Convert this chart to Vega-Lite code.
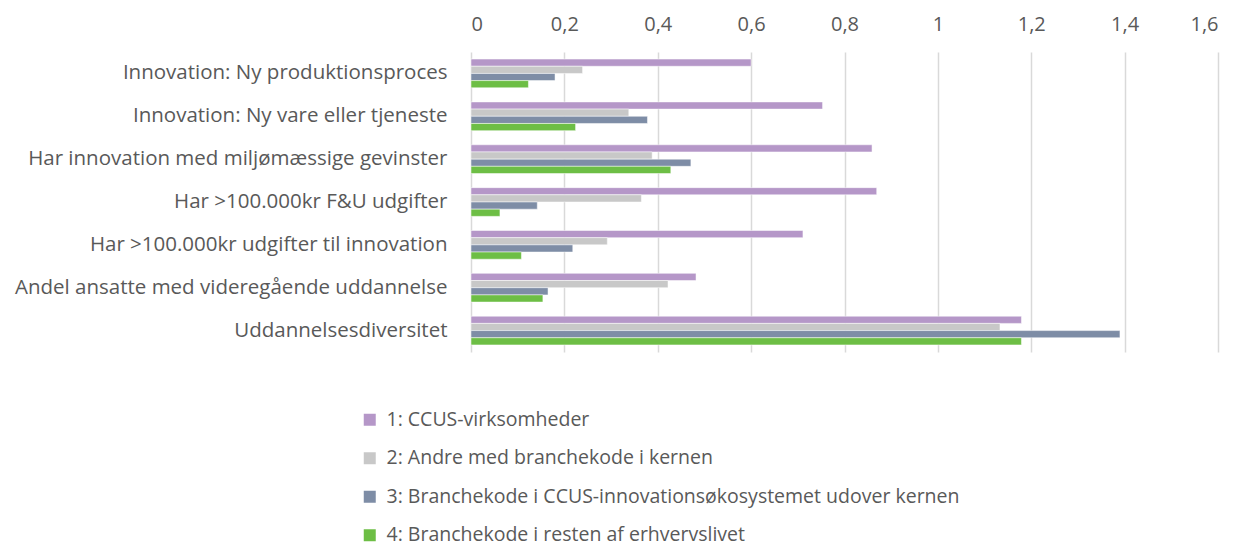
{
  "$schema": "https://vega.github.io/schema/vega-lite/v6.json",
  "autosize": {"type": "none"},
  "padding": {"left": 471, "top": 52, "right": 18, "bottom": 193},
  "width": 747,
  "height": 300,
  "background": "white",
  "config": {
    "font": "Open Sans",
    "view": {"stroke": null}
  },
  "data": {
    "values": [
      {"kategori": "Innovation: Ny produktionsproces", "gruppe": "1: CCUS-virksomheder", "v": 0.60},
      {"kategori": "Innovation: Ny produktionsproces", "gruppe": "2: Andre med branchekode i kernen", "v": 0.239},
      {"kategori": "Innovation: Ny produktionsproces", "gruppe": "3: Branchekode i CCUS-innovationsøkosystemet udover kernen", "v": 0.18},
      {"kategori": "Innovation: Ny produktionsproces", "gruppe": "4: Branchekode i resten af erhvervslivet", "v": 0.123},
      {"kategori": "Innovation: Ny vare eller tjeneste", "gruppe": "1: CCUS-virksomheder", "v": 0.753},
      {"kategori": "Innovation: Ny vare eller tjeneste", "gruppe": "2: Andre med branchekode i kernen", "v": 0.338},
      {"kategori": "Innovation: Ny vare eller tjeneste", "gruppe": "3: Branchekode i CCUS-innovationsøkosystemet udover kernen", "v": 0.378},
      {"kategori": "Innovation: Ny vare eller tjeneste", "gruppe": "4: Branchekode i resten af erhvervslivet", "v": 0.224},
      {"kategori": "Har innovation med miljømæssige gevinster", "gruppe": "1: CCUS-virksomheder", "v": 0.859},
      {"kategori": "Har innovation med miljømæssige gevinster", "gruppe": "2: Andre med branchekode i kernen", "v": 0.388},
      {"kategori": "Har innovation med miljømæssige gevinster", "gruppe": "3: Branchekode i CCUS-innovationsøkosystemet udover kernen", "v": 0.471},
      {"kategori": "Har innovation med miljømæssige gevinster", "gruppe": "4: Branchekode i resten af erhvervslivet", "v": 0.428},
      {"kategori": "Har >100.000kr F&U udgifter", "gruppe": "1: CCUS-virksomheder", "v": 0.869},
      {"kategori": "Har >100.000kr F&U udgifter", "gruppe": "2: Andre med branchekode i kernen", "v": 0.365},
      {"kategori": "Har >100.000kr F&U udgifter", "gruppe": "3: Branchekode i CCUS-innovationsøkosystemet udover kernen", "v": 0.142},
      {"kategori": "Har >100.000kr F&U udgifter", "gruppe": "4: Branchekode i resten af erhvervslivet", "v": 0.062},
      {"kategori": "Har >100.000kr udgifter til innovation", "gruppe": "1: CCUS-virksomheder", "v": 0.711},
      {"kategori": "Har >100.000kr udgifter til innovation", "gruppe": "2: Andre med branchekode i kernen", "v": 0.292},
      {"kategori": "Har >100.000kr udgifter til innovation", "gruppe": "3: Branchekode i CCUS-innovationsøkosystemet udover kernen", "v": 0.218},
      {"kategori": "Har >100.000kr udgifter til innovation", "gruppe": "4: Branchekode i resten af erhvervslivet", "v": 0.108},
      {"kategori": "Andel ansatte med videregående uddannelse", "gruppe": "1: CCUS-virksomheder", "v": 0.482},
      {"kategori": "Andel ansatte med videregående uddannelse", "gruppe": "2: Andre med branchekode i kernen", "v": 0.422},
      {"kategori": "Andel ansatte med videregående uddannelse", "gruppe": "3: Branchekode i CCUS-innovationsøkosystemet udover kernen", "v": 0.165},
      {"kategori": "Andel ansatte med videregående uddannelse", "gruppe": "4: Branchekode i resten af erhvervslivet", "v": 0.154},
      {"kategori": "Uddannelsesdiversitet", "gruppe": "1: CCUS-virksomheder", "v": 1.179},
      {"kategori": "Uddannelsesdiversitet", "gruppe": "2: Andre med branchekode i kernen", "v": 1.133},
      {"kategori": "Uddannelsesdiversitet", "gruppe": "3: Branchekode i CCUS-innovationsøkosystemet udover kernen", "v": 1.390},
      {"kategori": "Uddannelsesdiversitet", "gruppe": "4: Branchekode i resten af erhvervslivet", "v": 1.179}
    ]
  },
  "mark": {"type": "bar", "stroke": "white", "strokeWidth": 0.5},
  "encoding": {
    "y": {
      "field": "kategori",
      "type": "nominal",
      "sort": null,
      "scale": {"paddingInner": 0.33, "paddingOuter": 0.165},
      "axis": {
        "title": null,
        "ticks": false,
        "domain": false,
        "labelPadding": 24,
        "labelFontSize": 20.5,
        "labelColor": "#595959",
        "labelLimit": 500
      }
    },
    "yOffset": {
      "field": "gruppe",
      "type": "nominal",
      "sort": null,
      "scale": {"paddingInner": 0, "paddingOuter": 0}
    },
    "x": {
      "field": "v",
      "type": "quantitative",
      "scale": {"domain": [0, 1.6], "nice": false},
      "axis": {
        "orient": "top",
        "title": null,
        "values": [0, 0.2, 0.4, 0.6, 0.8, 1, 1.2, 1.4, 1.6],
        "format": "~g",
        "labelExpr": "replace(datum.label, '.', ',')",
        "labelFontSize": 20,
        "labelColor": "#595959",
        "labelPadding": 18,
        "ticks": false,
        "domain": false,
        "grid": true,
        "gridColor": "#d9d9d9",
        "gridWidth": 1.5
      }
    },
    "color": {
      "field": "gruppe",
      "type": "nominal",
      "sort": null,
      "scale": {
        "domain": [
          "1: CCUS-virksomheder",
          "2: Andre med branchekode i kernen",
          "3: Branchekode i CCUS-innovationsøkosystemet udover kernen",
          "4: Branchekode i resten af erhvervslivet"
        ],
        "range": ["#b597c8", "#c8c8c8", "#7e8da6", "#6dbe45"]
      },
      "legend": {
        "title": null,
        "orient": "none",
        "legendX": -111,
        "legendY": 358,
        "direction": "vertical",
        "symbolType": "square",
        "symbolSize": 144,
        "symbolStrokeWidth": 0,
        "labelFontSize": 19.5,
        "labelColor": "#595959",
        "rowPadding": 17.5,
        "labelLimit": 800,
        "labelOffset": 7
      }
    }
  }
}
